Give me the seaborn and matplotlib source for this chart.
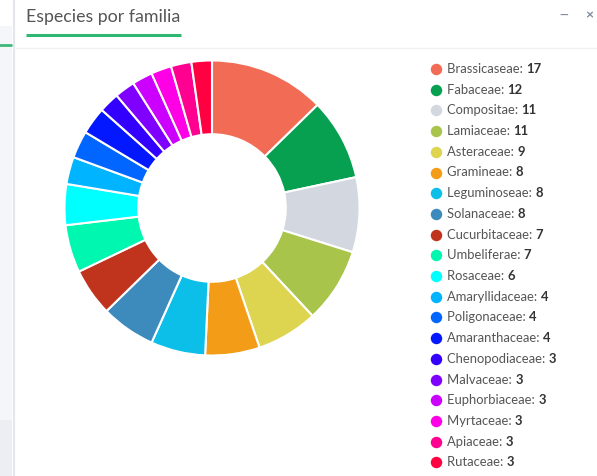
import matplotlib
matplotlib.use("Agg")
import matplotlib.pyplot as plt
import seaborn as sns
import pandas as pd

familias = ["Brassicaseae", "Fabaceae", "Compositae", "Lamiaceae", "Asteraceae",
            "Gramineae", "Leguminoseae", "Solanaceae", "Cucurbitaceae", "Umbeliferae",
            "Rosaceae", "Amaryllidaceae", "Poligonaceae", "Amaranthaceae", "Chenopodiaceae",
            "Malvaceae", "Euphorbiaceae", "Myrtaceae", "Apiaceae", "Rutaceae"]
especies = [17, 12, 11, 11, 9, 8, 8, 8, 7, 7, 6, 4, 4, 4, 3, 3, 3, 3, 3, 3]
colores = ["#f26b55", "#06a050", "#d3d7df", "#a8c44a", "#ddd550",
           "#f29c18", "#0bbfe8", "#3d8abd", "#c0341d", "#00f7b0",
           "#00ffff", "#00b4ff", "#0066ff", "#0418ff", "#3300ff",
           "#8000ff", "#cc00ff", "#ff00e6", "#ff0090", "#ff0040"]
titulo = "Especies por familia"

df = pd.DataFrame({"familia": familias, "especies": especies})

sns.set_theme(style="white")
plt.rcParams["font.family"] = ["Lato", "DejaVu Sans"]

W, H = 597, 476
fig = plt.figure(figsize=(W / 100, H / 100), dpi=100)
fig.patch.set_facecolor("white")

def fx(px):
    return px / W

def fy(py):
    return 1 - py / H

# fondo: barra lateral y cabecera del panel
bg = fig.add_axes([0, 0, 1, 1], zorder=-5)
bg.set_xlim(0, W)
bg.set_ylim(H, 0)
bg.axis("off")
bg.fill_between([0, 12], 26, 420, color="#f5f6f9", lw=0)
bg.fill_between([0, 12], 420, H, color="#eceef3", lw=0)
bg.plot([0, 11], [45, 45], color="#3cb878", lw=2)
bg.plot([13.5, 13.5], [0, H], color="#e3e6ec", lw=1.5)
bg.plot([14, W], [48, 48], color="#f0f1f4", lw=1)
bg.plot([26, 181], [35, 35], color="#2eb872", lw=2.2, solid_capstyle="butt")

fig.text(fx(26), fy(17), titulo, fontsize=12.8, color="#555555", va="center", ha="left")
fig.text(fx(564), fy(15), "\u2014", fontsize=8, color="#7d8699", fontweight="bold",
         va="center", ha="center")
fig.text(fx(589), fy(15), "\u00d7", fontsize=10, color="#7d8699", fontweight="bold",
         va="center", ha="center")

# donut
cx, cy, r = 212, 208, 149
ax = fig.add_axes([fx(cx - r), fy(cy + r), 2 * r / W, 2 * r / H])
ax.pie(df["especies"], colors=colores, startangle=90, counterclock=False,
       radius=1, wedgeprops=dict(width=0.5, edgecolor="white", linewidth=1.5))
ax.set_xlim(-1.01, 1.01)
ax.set_ylim(-1.01, 1.01)
ax.set_aspect("equal")
ax.axis("off")

# leyenda
fig.canvas.draw()
renderer = fig.canvas.get_renderer()
y0, step = 69, 20.7
for i, (fam, n, c) in enumerate(zip(df["familia"], df["especies"], colores)):
    y = y0 + i * step
    bg.scatter([436], [y], s=68, color=c, lw=0)
    t = fig.text(fx(447), fy(y), fam + ": ", fontsize=9.4, color="#555555",
                 va="center", ha="left")
    bb = t.get_window_extent(renderer)
    fig.text(bb.x1 / W, fy(y), str(n), fontsize=9.4, color="#333333",
             fontweight="bold", va="center", ha="left")

fig.savefig("out.png", dpi=100)
plt.close(fig)
